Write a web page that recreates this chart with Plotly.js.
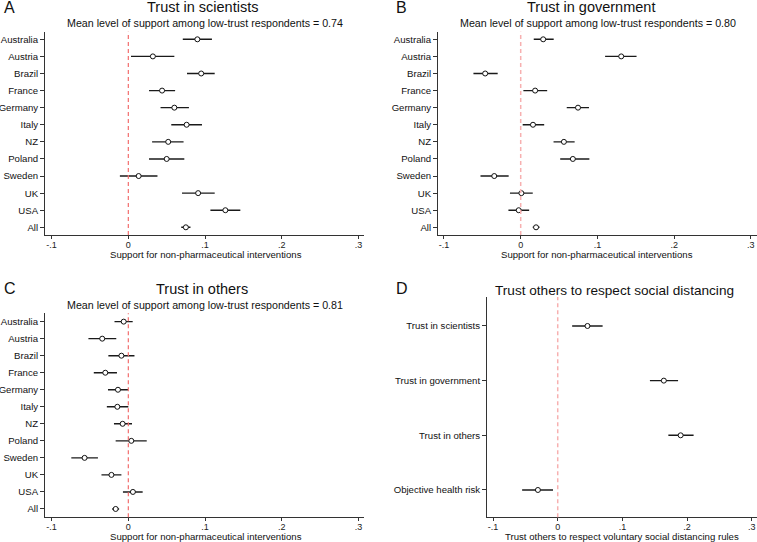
<!DOCTYPE html>
<html>
<head>
<meta charset="utf-8">
<script src="https://cdn.plot.ly/plotly-3.0.1.min.js"></script>
<style>html,body{margin:0;padding:0;background:#fff}#chart{width:757px;height:542px}</style>
</head>
<body>
<div id="chart"></div>
<script>
// ---- data ----
const countries = ['Australia','Austria','Brazil','France','Germany','Italy','NZ','Poland','Sweden','UK','USA','All'];

// Panel A: trust in scientists
const sciEst = [0.090, 0.032, 0.095, 0.044, 0.060, 0.076, 0.052, 0.050, 0.0135, 0.091, 0.1265, 0.075];
const sciLo  = [0.071, 0.0035, 0.0765, 0.027, 0.042, 0.056, 0.031, 0.027, -0.011, 0.070, 0.107, 0.069];
const sciHi  = [0.109, 0.060, 0.1126, 0.061, 0.079, 0.096, 0.072, 0.073, 0.038, 0.1126, 0.146, 0.081];

// Panel B: trust in government
const govEst = [0.0293, 0.131, -0.0463, 0.0188, 0.0747, 0.016, 0.0563, 0.068, -0.0345, 0.0009, -0.0026, 0.020];
const govLo  = [0.017, 0.110, -0.0616, 0.0035, 0.060, 0.0026, 0.0428, 0.0515, -0.0524, -0.014, -0.016, 0.0157];
const govHi  = [0.043, 0.151, -0.030, 0.0345, 0.089, 0.0306, 0.0703, 0.0895, -0.0157, 0.0157, 0.011, 0.0245];

// Panel C: trust in others
const othEst = [-0.006, -0.034, -0.009, -0.030, -0.0135, -0.0143, -0.0074, 0.0039, -0.057, -0.022, 0.006, -0.0165];
const othLo  = [-0.018, -0.052, -0.026, -0.045, -0.0265, -0.028, -0.0187, -0.0165, -0.0743, -0.035, -0.007, -0.021];
const othHi  = [0.0057, -0.0157, 0.008, -0.0148, -0.0004, 0.0, 0.0048, 0.024, -0.0396, -0.009, 0.0187, -0.012];

// Panel D: trust others to respect social distancing
const dCats = ['Trust in scientists','Trust in government','Trust in others','Objective health risk'];
const dEst = [0.046, 0.164, 0.190, -0.0306];
const dLo  = [0.0223, 0.1425, 0.171, -0.055];
const dHi  = [0.0694, 0.186, 0.210, -0.0073];

const tickVals = [-0.1, 0, 0.1, 0.2, 0.3];
const tickText = ['-.1', '0', '.1', '.2', '.3'];

const panelTitles = ['Trust in scientists', 'Trust in government', 'Trust in others', 'Trust others to respect social distancing'];
const subTitles = ['Mean level of support among low-trust respondents = 0.74',
                   'Mean level of support among low-trust respondents = 0.80',
                   'Mean level of support among low-trust respondents = 0.81'];
const panelLetters = ['A', 'B', 'C', 'D'];
const xTitles = ['Support for non-pharmaceutical interventions',
                 'Support for non-pharmaceutical interventions',
                 'Support for non-pharmaceutical interventions',
                 'Trust others to respect voluntary social distancing rules'];

// ---- build ----
const FONT = 'Liberation Sans, Arial, Helvetica, sans-serif';
function mk(cats, est, lo, hi, xa, ya) {
  return {
    type: 'scatter', mode: 'markers', x: est, y: cats, xaxis: xa, yaxis: ya,
    marker: {symbol: 'circle', size: 5, color: '#fff', line: {color: '#111', width: 1}},
    error_x: {type: 'data', symmetric: false,
      array: hi.map((h, i) => h - est[i]),
      arrayminus: lo.map((l, i) => est[i] - l),
      color: '#1a1a1a', thickness: 1.4, width: 0},
    showlegend: false, hoverinfo: 'skip'
  };
}
const data = [
  mk(countries, sciEst, sciLo, sciHi, 'x', 'y'),
  mk(countries, govEst, govLo, govHi, 'x2', 'y2'),
  mk(countries, othEst, othLo, othHi, 'x3', 'y3'),
  mk(dCats, dEst, dLo, dHi, 'x4', 'y4')
];

function xax(domain, range, anchor) {
  return {domain: domain, range: range, tickvals: tickVals, ticktext: tickText, anchor: anchor,
    showgrid: false, zeroline: false, showline: true, linecolor: '#333', linewidth: 1,
    ticks: 'outside', ticklen: 3, tickcolor: '#333', tickfont: {family: FONT, size: 9, color: '#222'},
    ticklabelstandoff: -2,
    fixedrange: true, automargin: false};
}
function yax(domain, range, cats, anchor) {
  return {domain: domain, range: range, type: 'category', categoryorder: 'array', categoryarray: cats,
    showgrid: false, zeroline: false, showline: true, linecolor: '#333', linewidth: 1,
    ticks: 'outside', ticklen: 4, tickcolor: '#333', tickfont: {family: FONT, size: 9.6, color: '#111'},
    anchor: anchor, fixedrange: true, automargin: false};
}

const W = 757, H = 542;
const layout = {
  width: W, height: H, margin: {l: 0, r: 0, t: 0, b: 0},
  paper_bgcolor: '#fff', plot_bgcolor: '#fff', showlegend: false,
  font: {family: FONT, color: '#111'},
  xaxis:  xax([45/W, 364/W], [-0.1086, 0.3072], 'y'),
  yaxis:  yax([1-235/H, 1-31.7/H], [11.45, -0.445], countries, 'x'),
  xaxis2: xax([438/W, 1], [-0.1078, 0.308], 'y2'),
  yaxis2: yax([1-235/H, 1-31.7/H], [11.45, -0.445], countries, 'x2'),
  xaxis3: xax([45/W, 364/W], [-0.1086, 0.3072], 'y3'),
  yaxis3: yax([1-517.3/H, 1-313.3/H], [11.49, -0.49], countries, 'x3'),
  xaxis4: xax([487/W, 1], [-0.1093, 0.308], 'y4'),
  yaxis4: yax([1-517.3/H, 1-297/H], [3.5, -0.53], dCats, 'x4'),
  shapes: [
    {type: 'line', xref: 'x', yref: 'y domain', x0: 0, x1: 0, y0: 0, y1: 1, line: {color: '#f26d6d', width: 1.2, dash: '4px,3px'}},
    {type: 'line', xref: 'x2', yref: 'y2 domain', x0: 0, x1: 0, y0: 0, y1: 1, line: {color: '#f7b0b0', width: 1.5, dash: '4px,3px'}},
    {type: 'line', xref: 'x3', yref: 'y3 domain', x0: 0, x1: 0, y0: 0, y1: 1, line: {color: '#f26d6d', width: 1.2, dash: '4px,3px'}},
    {type: 'line', xref: 'x4', yref: 'y4 domain', x0: 0, x1: 0, y0: 0, y1: 1, line: {color: '#f7b0b0', width: 1.5, dash: '4px,3px'}}
  ],
  annotations: []
};

function ann(text, px, py, size, xanchor) {
  layout.annotations.push({text: text, xref: 'paper', yref: 'paper', x: px / W, y: 1 - py / H,
    xanchor: xanchor || 'center', yanchor: 'middle', showarrow: false,
    font: {family: FONT, size: size, color: '#111'}});
}
ann(panelLetters[0], 2, 7, 16, 'left');
ann(panelLetters[1], 394, 7, 16, 'left');
ann(panelLetters[2], 2, 288, 16, 'left');
ann(panelLetters[3], 394, 288, 16, 'left');
ann(panelTitles[0], 202, 7.5, 14.5);
ann(panelTitles[1], 590.5, 7.5, 14.5);
ann(panelTitles[2], 201.7, 289, 14.5);
ann(panelTitles[3], 614.7, 290, 13.6);
ann(subTitles[0], 205, 23.3, 10.7);
ann(subTitles[1], 598, 23.3, 10.7);
ann(subTitles[2], 205, 305, 10.7);
// axis titles
ann(xTitles[0], 205.5, 255, 9.6);
ann(xTitles[1], 596.8, 255, 9.6);
ann(xTitles[2], 205.5, 536.5, 9.6);
ann(xTitles[3], 621.8, 536.5, 9.6);

Plotly.newPlot('chart', data, layout, {displayModeBar: false, staticPlot: true});
</script>
</body>
</html>
